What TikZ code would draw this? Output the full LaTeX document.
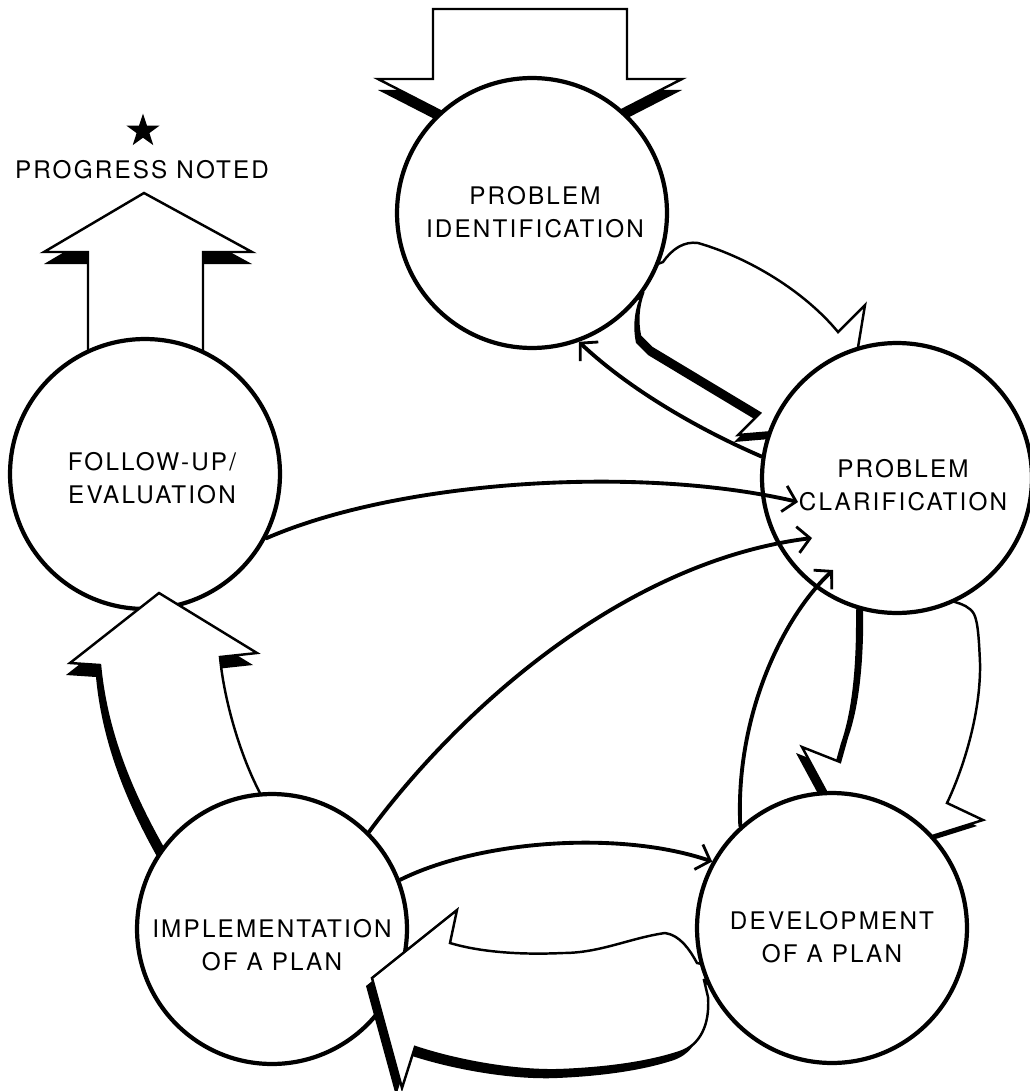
\documentclass[tikz,border=0pt]{standalone}
\usepackage{fontspec}
\newfontfamily\labelfont{TeX Gyre Heros}[LetterSpace=9]
\usetikzlibrary{arrows.meta,shapes.geometric}

\begin{document}
\begin{tikzpicture}[x=0.02cm,y=-0.02cm,
  stage/.style={circle, draw=black, fill=white, line width=2.4pt,
                minimum size=5.4cm, inner sep=0pt},
  stagetext/.style={align=center, inner sep=0pt,
                    font=\labelfont\fontsize{13.8}{18.8}\selectfont},
  blockarrow/.style={fill=white, draw=black, line width=1.4pt, line join=miter},
  shade/.style={fill=black},
  thinlink/.style={line width=2.2pt, line cap=round,
                   -{Straight Barb[length=7pt,width=15pt,line width=1.6pt]}},
]
\useasboundingbox (0,0) rectangle (1030,1091);

% ---- block arrow outlines (pixel-like units, y grows downward) ----
\def\arrowProg{(144,193) -- (252,252) -- (203,252) -- (203,420) -- (88,420)
  -- (88,252) -- (44,252) -- cycle}
\def\arrowTop{(433,9) -- (627,9) -- (627,79) -- (682,79) -- (530,157)
  -- (378,79) -- (433,79) -- cycle}
\def\arrowIdCl{(663,262) .. controls (672,249) and (684,241) .. (698,243)
  .. controls (750,258) and (805,292) .. (838,332) -- (865,305) -- (845,426)
  -- (738,435) -- (760,413) -- (652,348) -- (640,336)
  .. controls (637,322) and (638,306) .. (643,293) -- (615,280) -- cycle}
\def\arrowClDe{(870,560) -- (862,605) -- (862,617)
  .. controls (862,650) and (860,700) .. (847,737) -- (840,762) -- (802,747)
  -- (862,858) -- (983,820) -- (947,803)
  .. controls (965,765) and (981,710) .. (980,663)
  .. controls (979,640) and (978,622) .. (974,614)
  .. controls (970,607) and (962,604) .. (955,602) -- (940,560) -- cycle}
\def\arrowDeIm{(457,910) -- (372,978) -- (402,1088) -- (415,1047)
  .. controls (460,1062) and (520,1072) .. (563,1070)
  .. controls (610,1068) and (650,1062) .. (680,1052)
  .. controls (700,1045) and (710,1025) .. (708,997) -- (704,980) -- (730,970)
  -- (697,963) .. controls (690,950) and (680,935) .. (665,933)
  .. controls (630,938) and (600,953) .. (563,953)
  .. controls (520,955) and (480,952) .. (450,943) -- cycle}
\def\arrowImFu{(159,593) -- (257,653) -- (220,657)
  .. controls (224,700) and (240,755) .. (260,793) -- (265,860) -- (175,870)
  -- (163,848) .. controls (130,790) and (106,730) .. (100,665) -- (70,663) -- cycle}

% arrows lying behind the circles
\fill[shade, shift={(0,12)}] \arrowProg;
\filldraw[blockarrow] \arrowProg;
\fill[shade, shift={(0,11)}] \arrowTop;
\filldraw[blockarrow] \arrowTop;
\fill[shade, shift={(-4,7)}] \arrowIdCl;
\filldraw[blockarrow] \arrowIdCl;
\fill[shade, shift={(-6,6)}] \arrowClDe;
\filldraw[blockarrow] \arrowClDe;

% stages
\node[stage] (PI) at (532,213) {};
\node[stage] (PC) at (897,478) {};
\node[stage] (FU) at (145,474) {};

\fill[shade, shift={(-4,12)}] \arrowImFu;
\filldraw[blockarrow] \arrowImFu;

\node[stage] (IM) at (272,929) {};

\fill[shade, shift={(-6,8)}] \arrowDeIm;
\filldraw[blockarrow] \arrowDeIm;

\node[stage] (DE) at (832,928) {};

% labels
\node[stagetext] (PIt) at (535,212) {PROBLEM\\IDENTIFICATION};
\node[stagetext] (PCt) at (903,485) {PROBLEM\\CLARIFICATION};
\node[stagetext] (FUt) at (152,478) {FOLLOW-UP/\\EVALUATION};
\node[stagetext] (IMt) at (272,945) {IMPLEMENTATION\\OF A PLAN};
\node[stagetext] (DEt) at (832,937) {DEVELOPMENT\\OF A PLAN};

\node[star, star points=5, star point ratio=2.6, fill=black, inner sep=0pt,
      minimum size=0.7cm] (mark) at (143,131) {};
\node[stagetext] (progress) at (142,170) {PROGRESS NOTED};

% thin connectors
\coordinate (fuTip) at (798,502);
\coordinate (imTip) at (812,538);
\coordinate (deTip) at (833,570);

\draw[thinlink] (PC.171) .. controls (700,430) and (630,390) .. (PI.-70);
\draw[thinlink] (FU.-28) .. controls (400,480) and (640,465) .. (fuTip);
\draw[thinlink] (IM.45) .. controls (455,715) and (620,562) .. (imTip);
\draw[thinlink] (DE.132) .. controls (735,720) and (780,620) .. (deTip);
\draw[thinlink] (IM.21) .. controls (480,840) and (620,830) .. (DE.151);
\end{tikzpicture}
\end{document}
